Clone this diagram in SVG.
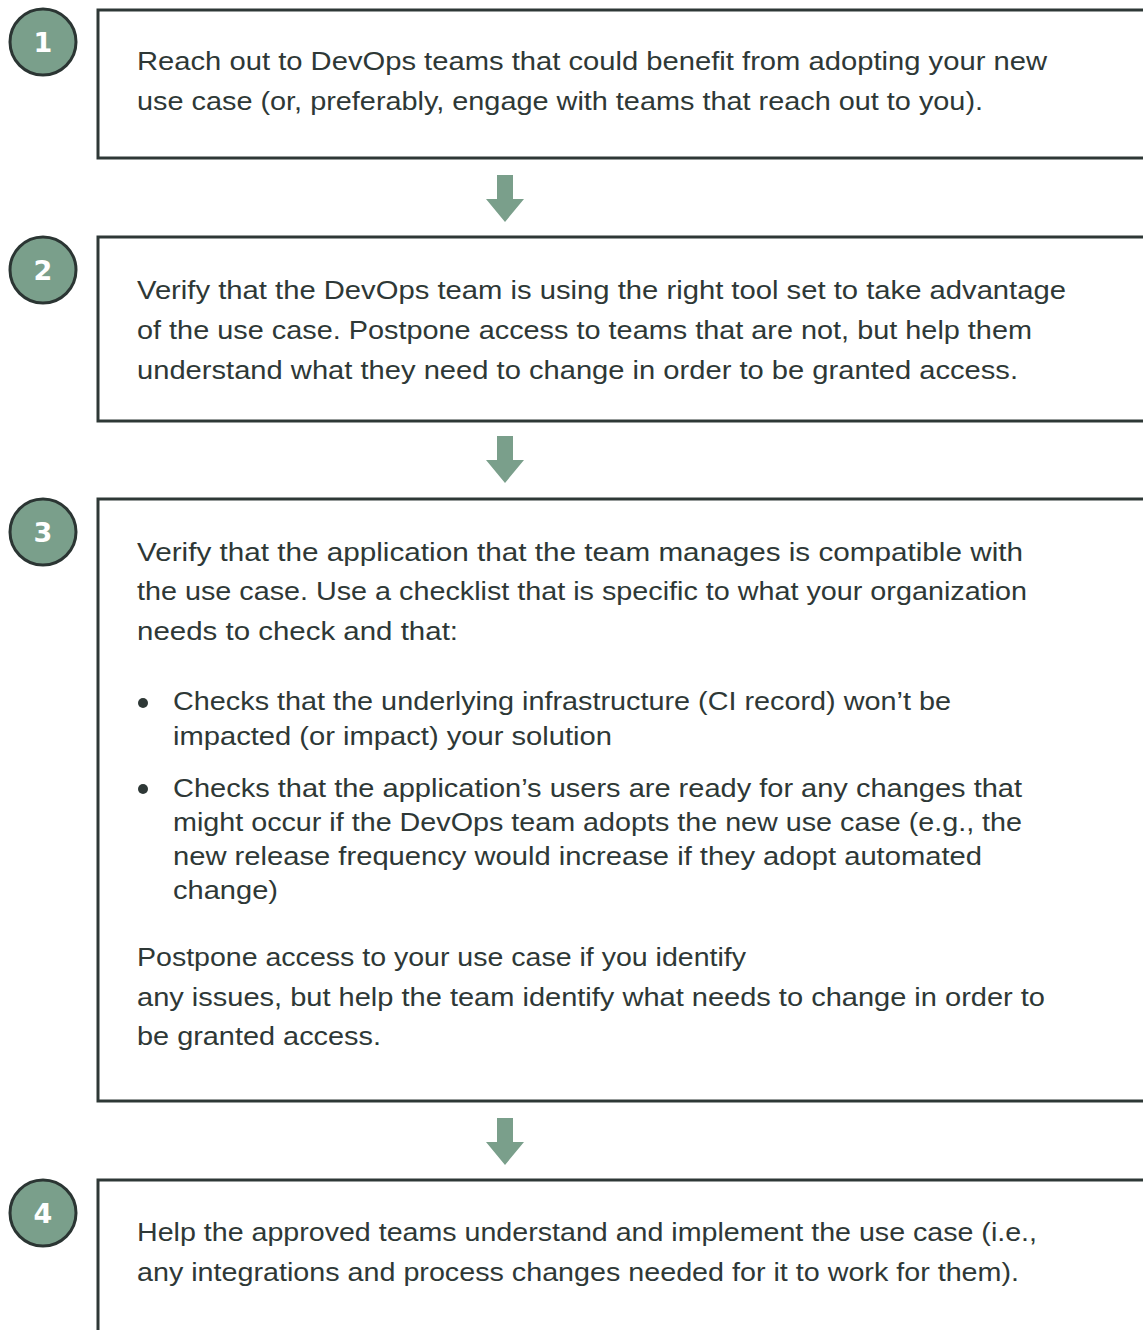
<svg xmlns="http://www.w3.org/2000/svg" width="1143" height="1330" viewBox="0 0 1143 1330">
  <style>
    .box { fill: #ffffff; stroke: #2e3836; stroke-width: 3; }
    .badge { fill: #7a9f8b; stroke: #2b3533; stroke-width: 3; }
    .num { fill: #ffffff; font-family: "DejaVu Sans", "Liberation Sans", sans-serif; font-weight: bold; font-size: 27px; text-anchor: middle; }
    .txt { fill: #2e3836; font-family: "Liberation Sans", Arial, sans-serif; font-size: 26px; }
    .dot { fill: #2e3836; }
    .arrow { fill: #7a9f8b; }
  </style>
  <rect width="1143" height="1330" fill="#ffffff"/>

  <!-- connectors: downward block arrows between steps -->
  <g id="connectors">
    <polygon class="arrow" points="497,175 513,175 513,199 524,199 505,222 486,199 497,199"/>
    <polygon class="arrow" points="497,436 513,436 513,460 524,460 505,483 486,460 497,460"/>
    <polygon class="arrow" points="497,1118 513,1118 513,1142 524,1142 505,1165 486,1142 497,1142"/>
  </g>

  <!-- step 1 -->
  <g id="step1">
    <rect class="box" x="98" y="10" width="1060" height="148"/>
    <circle class="badge" cx="43" cy="42" r="33"/>
    <text class="num" x="43" y="52">1</text>
    <text class="txt" x="137" y="70" textLength="910" lengthAdjust="spacingAndGlyphs">Reach out to DevOps teams that could benefit from adopting your new</text>
    <text class="txt" x="137" y="110" textLength="846" lengthAdjust="spacingAndGlyphs">use case (or, preferably, engage with teams that reach out to you).</text>
  </g>

  <!-- step 2 -->
  <g id="step2">
    <rect class="box" x="98" y="237" width="1060" height="184"/>
    <circle class="badge" cx="43" cy="270" r="33"/>
    <text class="num" x="43" y="280">2</text>
    <text class="txt" x="137" y="299" textLength="929" lengthAdjust="spacingAndGlyphs">Verify that the DevOps team is using the right tool set to take advantage</text>
    <text class="txt" x="137" y="339" textLength="895" lengthAdjust="spacingAndGlyphs">of the use case. Postpone access to teams that are not, but help them</text>
    <text class="txt" x="137" y="379" textLength="881" lengthAdjust="spacingAndGlyphs">understand what they need to change in order to be granted access.</text>
  </g>

  <!-- step 3 -->
  <g id="step3">
    <rect class="box" x="98" y="499" width="1060" height="602"/>
    <circle class="badge" cx="43" cy="532" r="33"/>
    <text class="num" x="43" y="542">3</text>
    <text class="txt" x="137" y="561" textLength="886" lengthAdjust="spacingAndGlyphs">Verify that the application that the team manages is compatible with</text>
    <text class="txt" x="137" y="600" textLength="890" lengthAdjust="spacingAndGlyphs">the use case. Use a checklist that is specific to what your organization</text>
    <text class="txt" x="137" y="640" textLength="321" lengthAdjust="spacingAndGlyphs">needs to check and that:</text>

    <circle class="dot" cx="143" cy="703" r="5"/>
    <text class="txt" x="173" y="710" textLength="778" lengthAdjust="spacingAndGlyphs">Checks that the underlying infrastructure (CI record) won’t be</text>
    <text class="txt" x="173" y="745" textLength="439" lengthAdjust="spacingAndGlyphs">impacted (or impact) your solution</text>

    <circle class="dot" cx="143" cy="789" r="5"/>
    <text class="txt" x="173" y="797" textLength="849" lengthAdjust="spacingAndGlyphs">Checks that the application’s users are ready for any changes that</text>
    <text class="txt" x="173" y="831" textLength="849" lengthAdjust="spacingAndGlyphs">might occur if the DevOps team adopts the new use case (e.g., the</text>
    <text class="txt" x="173" y="865" textLength="809" lengthAdjust="spacingAndGlyphs">new release frequency would increase if they adopt automated</text>
    <text class="txt" x="173" y="899" textLength="105" lengthAdjust="spacingAndGlyphs">change)</text>

    <text class="txt" x="137" y="966" textLength="609" lengthAdjust="spacingAndGlyphs">Postpone access to your use case if you identify</text>
    <text class="txt" x="137" y="1006" textLength="908" lengthAdjust="spacingAndGlyphs">any issues, but help the team identify what needs to change in order to</text>
    <text class="txt" x="137" y="1045" textLength="244" lengthAdjust="spacingAndGlyphs">be granted access.</text>
  </g>

  <!-- step 4 -->
  <g id="step4">
    <rect class="box" x="98" y="1180" width="1060" height="170"/>
    <circle class="badge" cx="43" cy="1213" r="33"/>
    <text class="num" x="43" y="1223">4</text>
    <text class="txt" x="137" y="1241" textLength="900" lengthAdjust="spacingAndGlyphs">Help the approved teams understand and implement the use case (i.e.,</text>
    <text class="txt" x="137" y="1281" textLength="882" lengthAdjust="spacingAndGlyphs">any integrations and process changes needed for it to work for them).</text>
  </g>
</svg>
